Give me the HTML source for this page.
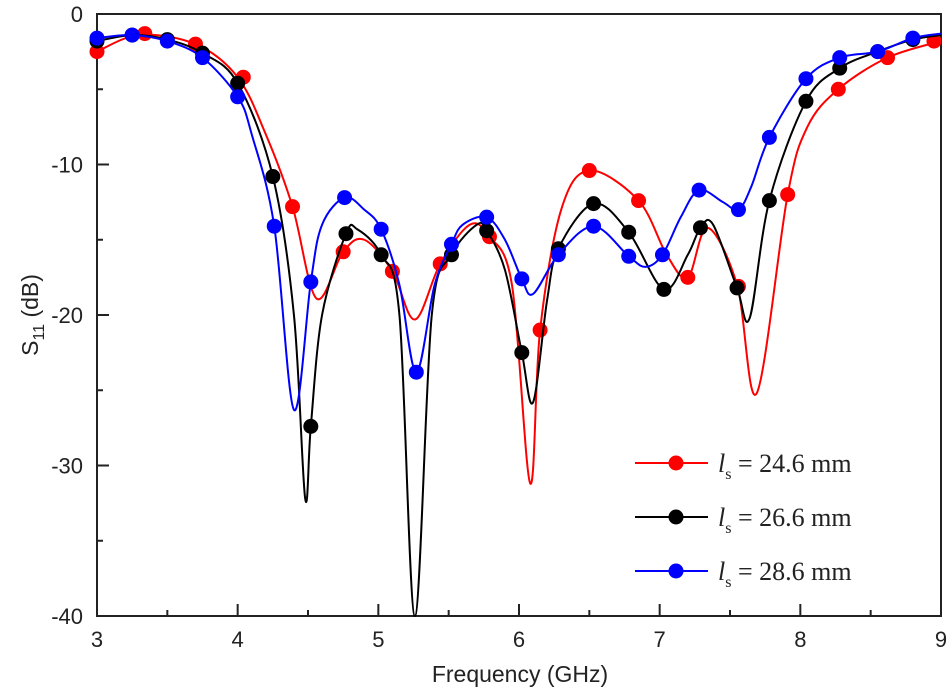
<!DOCTYPE html>
<html><head><meta charset="utf-8"><style>
body{margin:0;background:#fff;}
svg{display:block;font-family:"Liberation Sans",sans-serif;}
</style></head><body>
<svg id="chart" width="951" height="690">
<g id="axes"></g>
<g id="series"></g>
<g id="legend"></g>
</svg>
<script>
const xTicks=[3,4,5,6,7,8,9];
const yTicks=[0,-10,-20,-30,-40];
const seriesNames=["24.6 mm","26.6 mm","28.6 mm"];
const seriesColors=["#ff0000","#000000","#0000ff"];
const redF=[3.0,3.3,3.7,4.0,4.2,4.39,4.56,4.75,4.9,5.1,5.26,5.44,5.65,5.79,5.95,6.08,6.15,6.3,6.5,6.85,7.05,7.2,7.34,7.55,7.69,7.91,8.05,8.27,8.62,9.0];
const redV=[-2.5,-1.4,-2.0,-4.2,-8,-12.8,-18.9,-15.8,-15.0,-17.1,-20.3,-16.6,-14.0,-14.8,-18,-31.2,-21,-13,-10.4,-12.4,-16,-17.5,-14.2,-18,-25.2,-12,-7.5,-5.0,-2.9,-1.8];
const blackF=[3.0,3.25,3.5,3.75,4.0,4.25,4.4,4.48,4.52,4.6,4.77,4.85,5.02,5.15,5.26,5.38,5.52,5.7,5.77,5.9,6.02,6.1,6.2,6.28,6.53,6.78,7.03,7.2,7.29,7.38,7.55,7.64,7.78,8.04,8.28,8.55,8.8,9.0];
const blackV=[-1.8,-1.4,-1.7,-2.6,-4.6,-10.8,-20,-32.2,-27.4,-20,-14.6,-14.3,-16,-20,-40,-20,-16,-14,-14.4,-17,-22.5,-25.8,-19,-15.6,-12.6,-14.5,-18.3,-16,-14.2,-14.0,-18.2,-20.2,-12.4,-5.8,-3.6,-2.5,-1.7,-1.4];
const blueF=[3.0,3.25,3.5,3.75,4.0,4.1,4.26,4.4,4.52,4.6,4.76,4.9,5.02,5.15,5.27,5.4,5.52,5.6,5.77,5.9,6.02,6.1,6.28,6.53,6.78,6.9,7.02,7.15,7.28,7.45,7.56,7.65,7.78,8.04,8.28,8.55,8.8,9.0];
const blueV=[-1.6,-1.4,-1.8,-2.9,-5.5,-8,-14.1,-26.3,-17.8,-14,-12.2,-13,-14.3,-18,-23.8,-18,-15.3,-14,-13.5,-15,-17.6,-18.6,-16,-14.1,-16.1,-16.8,-16,-13.5,-11.7,-12.5,-13.0,-11.5,-8.2,-4.3,-2.9,-2.5,-1.6,-1.3];
const redMF=[3.0,3.34,3.7,4.04,4.39,4.75,5.1,5.44,5.79,6.15,6.5,6.85,7.2,7.56,7.91,8.27,8.62,8.95];
const redMV=[-2.5,-1.3,-2.0,-4.2,-12.8,-15.8,-17.1,-16.6,-14.8,-21,-10.4,-12.4,-17.5,-18.1,-12,-5.0,-2.9,-1.8];
const blackMF=[3.0,3.25,3.5,3.75,4.0,4.25,4.52,4.77,5.02,5.52,5.77,6.02,6.28,6.53,6.78,7.03,7.29,7.55,7.78,8.04,8.28,8.55,8.8];
const blackMV=[-1.8,-1.4,-1.7,-2.6,-4.6,-10.8,-27.4,-14.6,-16,-16,-14.4,-22.5,-15.6,-12.6,-14.5,-18.3,-14.2,-18.2,-12.4,-5.8,-3.6,-2.5,-1.7];
const blueMF=[3.0,3.25,3.5,3.75,4.0,4.26,4.52,4.76,5.02,5.27,5.52,5.77,6.02,6.28,6.53,6.78,7.02,7.28,7.56,7.78,8.04,8.28,8.55,8.8];
const blueMV=[-1.6,-1.4,-1.8,-2.9,-5.5,-14.1,-17.8,-12.2,-14.3,-23.8,-15.3,-13.5,-17.6,-16,-14.1,-16.1,-16,-11.7,-13.0,-8.2,-4.3,-2.9,-2.5,-1.6];

const X0=97,X1=941,Y0=14,Y1=616;
const sx=f=>X0+(f-3)/6*(X1-X0);
const sy=v=>Y0+(0-v)/40*(Y1-Y0);
const NS="http://www.w3.org/2000/svg";
function mk(tag,attrs,parent){const e=document.createElementNS(NS,tag);for(const k in attrs)e.setAttribute(k,attrs[k]);parent.appendChild(e);return e;}
const axes=document.getElementById('axes'),ser=document.getElementById('series'),leg=document.getElementById('legend');
const frame=mk('rect',{x:X0,y:Y0,width:X1-X0,height:Y1-Y0,fill:'none',stroke:'#222','stroke-width':2},axes);


xTicks.forEach(t=>{
  const x=sx(t);
  const l=mk('line',{x1:x,x2:x,y1:Y1,y2:Y1-12,stroke:'#222','stroke-width':2},axes);
  
  
  if(t<9){const m=mk('line',{x1:sx(t+0.5),x2:sx(t+0.5),y1:Y1,y2:Y1-6,stroke:'#222','stroke-width':2},axes);
  
  }
  const tx=mk('text',{x:x,y:647,'text-anchor':'middle','font-size':22,fill:'#222'},axes);tx.textContent=t;
  
  
});
yTicks.forEach(t=>{
  const y=sy(t);
  const l=mk('line',{x1:X0,x2:X0+12,y1:y,y2:y,stroke:'#222','stroke-width':2},axes);
  
  
  if(t>-40){const m=mk('line',{x1:X0,x2:X0+6,y1:sy(t-5),y2:sy(t-5),stroke:'#222','stroke-width':2},axes);
  
  }
  const tx=mk('text',{x:X0-14,y:y+8,'text-anchor':'end','font-size':22,fill:'#222'},axes);tx.textContent=t;
  
  
});
const xt=mk('text',{x:520,y:682,'text-anchor':'middle','font-size':23,fill:'#222'},axes);xt.textContent='Frequency (GHz)';


const yt=mk('text',{transform:'translate(38,315) rotate(-90)','text-anchor':'middle','font-size':23,fill:'#222'},axes);
yt.innerHTML='S<tspan font-size="16" dy="6">11</tspan><tspan dy="-6"> (dB)</tspan>';



function path(F,V){
  const p=F.map((f,i)=>[sx(f),sy(V[i])]);
  let d='M'+p[0][0]+','+p[0][1];
  for(let i=0;i<p.length-1;i++){
    const a=p[Math.max(0,i-1)],b=p[i],c=p[i+1],e=p[Math.min(p.length-1,i+2)];
    const c1=[b[0]+(c[0]-a[0])/6,b[1]+(c[1]-a[1])/6],c2=[c[0]-(e[0]-b[0])/6,c[1]-(e[1]-b[1])/6];
    d+=' C'+c1+' '+c2+' '+c;
  }
  return d;
}
const data=[[redF,redV,redMF,redMV],[blackF,blackV,blackMF,blackMV],[blueF,blueV,blueMF,blueMV]];
data.forEach((s,k)=>{
  const col=seriesColors[k];
  const p=mk('path',{d:path(s[0],s[1]),fill:'none',stroke:col,'stroke-width':2},ser);
  
  
  s[2].forEach((f,i)=>{
    const c=mk('circle',{cx:sx(f),cy:sy(s[3][i]),r:7.5,fill:col},ser);
    
    
  });
  const ly=463+k*54;
  const ll=mk('line',{x1:635,x2:708,y1:ly,y2:ly,stroke:col,'stroke-width':2},leg);
  
  
  const lc=mk('circle',{cx:676,cy:ly,r:7.5,fill:col},leg);
  
  
  const lt=mk('text',{x:718,y:ly+9,'font-size':26,fill:'#222','font-family':'Liberation Serif, serif'},leg);
  lt.innerHTML='<tspan font-style="italic">l</tspan><tspan font-size="16" dy="7">s</tspan><tspan dy="-7"> = '+seriesNames[k]+'</tspan>';
  
  
});
</script>
</body></html>
